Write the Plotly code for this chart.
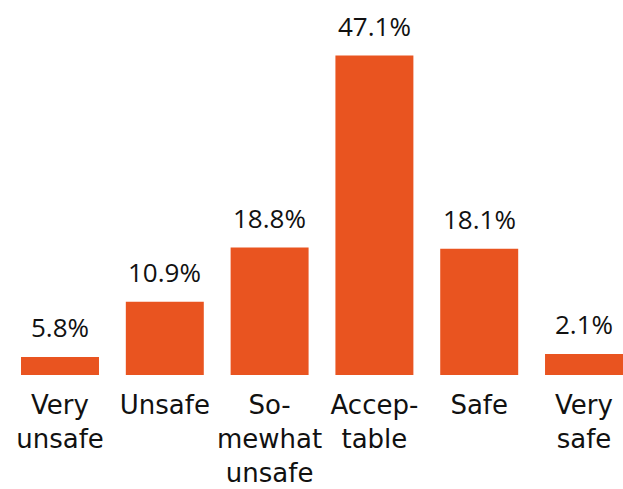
import plotly.graph_objects as go

categories = ["Very<br>unsafe", "Unsafe", "So-<br>mewhat<br>unsafe", "Accep-<br>table", "Safe", "Very<br>safe"]
bar_values = [2.65, 10.8, 18.8, 47.1, 18.6, 3.1]
value_labels = ["5.8%", "10.9%", "18.8%", "47.1%", "18.1%", "2.1%"]

xs = list(range(len(categories)))
LABEL_FONT = "Open Sans"
TICK_FONT = "DejaVu Sans"

fig = go.Figure()
fig.add_trace(go.Bar(
    x=xs, y=bar_values, width=0.744,
    marker=dict(color="#E95420", line=dict(width=0)),
    hoverinfo="skip",
))
for x, v, t in zip(xs, bar_values, value_labels):
    fig.add_annotation(x=x, y=v, text=t, showarrow=False, yanchor="bottom",
                       yshift=10, font=dict(family=LABEL_FONT, size=26, color="#111111"))

fig.update_layout(
    width=623, height=489,
    margin=dict(l=0, r=0, t=0, b=114, autoexpand=False),
    paper_bgcolor="white", plot_bgcolor="white",
    showlegend=False,
    font=dict(family=TICK_FONT, size=26, color="#111111"),
    xaxis=dict(range=[-0.5725, 5.372], tickmode="array", tickvals=xs, ticktext=categories,
               showgrid=False, zeroline=False, showline=False, ticks="", automargin=False,
               ticklabelstandoff=12, tickfont=dict(family=TICK_FONT, size=26, color="#111111")),
    yaxis=dict(range=[0, 55.3], visible=False, showgrid=False, zeroline=False, automargin=False),
)
fig.write_html("out.html")
